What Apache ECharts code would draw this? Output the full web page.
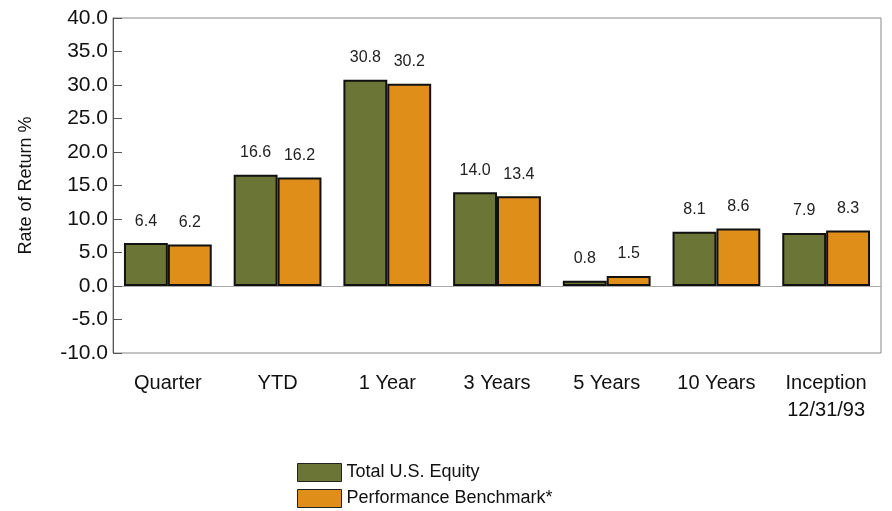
<!DOCTYPE html>
<html>
<head>
<meta charset="utf-8">
<script src="https://cdn.jsdelivr.net/npm/echarts@6/dist/echarts.min.js"></script>
<style>
html,body{margin:0;padding:0;background:#fff;}
#chart{width:892px;height:511px;}
</style>
</head>
<body>
<div id="chart"></div>
<script>
var categories=['Quarter','YTD','1 Year','3 Years','5 Years','10 Years','Inception\n12/31/93'];
var equity=[6.4,16.6,30.8,14.0,0.8,8.1,7.9];
var benchmark=[6.2,16.2,30.2,13.4,1.5,8.6,8.3];
var seriesNames=['Total U.S. Equity','Performance Benchmark*'];

var FONT='"Liberation Sans Narrow","Arial Narrow","Liberation Sans",Arial,sans-serif';

var myChart=echarts.init(document.getElementById('chart'));

function labelCfg(){
    return {
        show:true,
        position:'top',
        distance:14,
        color:'#222',
        fontFamily:FONT,
        fontSize:16,
        formatter:function(p){ return p.value.toFixed(1); }
    };
}

var option={
    animation:false,
    textStyle:{fontFamily:FONT},
    grid:{left:113,right:11,top:18,bottom:158,show:true,borderColor:'#888',borderWidth:1},
    legend:{
        orient:'vertical',
        left:297,
        top:463,
        padding:0,
        icon:'rect',
        itemWidth:44,
        itemHeight:18,
        itemGap:7,
        itemStyle:{borderColor:'#222',borderWidth:1},
        textStyle:{fontFamily:FONT,fontSize:18,color:'#111'},
        data:seriesNames
    },
    xAxis:{
        type:'category',
        data:categories,
        axisLine:{onZero:true,lineStyle:{color:'#aaa',width:1}},
        axisTick:{show:false},
        axisLabel:{fontFamily:FONT,fontSize:20,color:'#111',margin:17,lineHeight:27,interval:0}
    },
    yAxis:{
        type:'value',
        min:-10,
        max:40,
        interval:5,
        name:'Rate of Return %',
        nameLocation:'middle',
        nameGap:78,
        nameTextStyle:{fontFamily:FONT,fontSize:18,color:'#111'},
        axisLine:{show:true,lineStyle:{color:'#555'}},
        axisTick:{show:true,inside:true,length:9,lineStyle:{color:'#555'}},
        splitLine:{show:false},
        axisLabel:{fontFamily:FONT,fontSize:21,color:'#111',margin:5,formatter:function(v){return v.toFixed(1);}}
    },
    series:[
        {
            name:seriesNames[0],
            type:'bar',
            data:equity,
            barGap:'0%',
            barCategoryGap:'20%',
            itemStyle:{color:'#6b7535',borderColor:'#111',borderWidth:2},
            label:labelCfg()
        },
        {
            name:seriesNames[1],
            type:'bar',
            data:benchmark,
            itemStyle:{color:'#e08e1a',borderColor:'#111',borderWidth:2},
            label:labelCfg()
        }
    ]
};
myChart.setOption(option);
</script>
</body>
</html>
